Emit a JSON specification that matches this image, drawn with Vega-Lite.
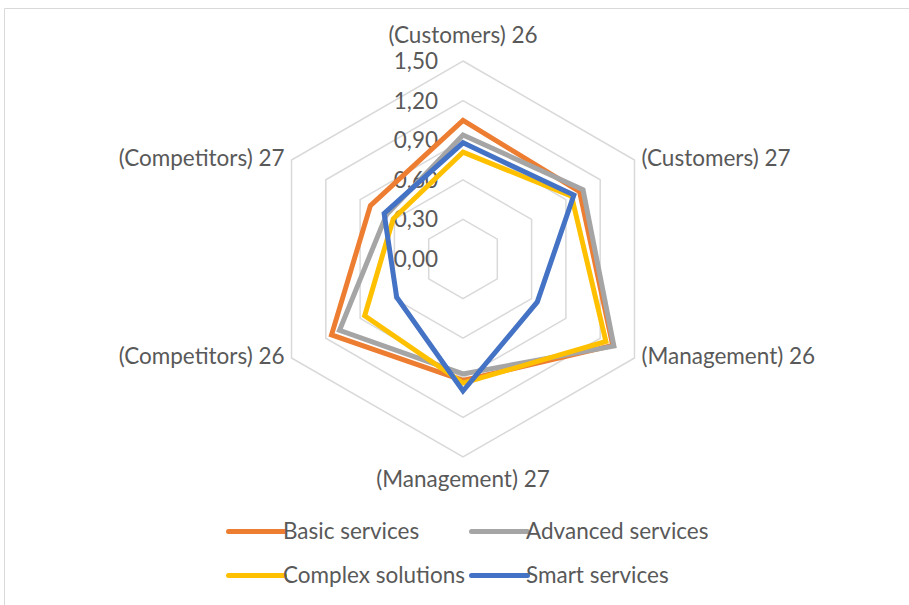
{
  "$schema": "https://vega.github.io/schema/vega-lite/v6.json",
  "width": 909,
  "height": 605,
  "autosize": {"type": "fit", "contains": "padding"},
  "padding": {"left": 4, "top": 8, "right": 0, "bottom": 0},
  "background": "white",
  "config": {
    "view": {"stroke": "#D9D9D9", "strokeWidth": 1},
    "font": "Lato",
    "text": {"font": "Lato", "fontSize": 22.5, "fill": "#595959"}
  },
  "datasets": {
    "vals": [
      {"series": "Basic services", "axis": "(Customers) 26", "value": 1.05},
      {"series": "Basic services", "axis": "(Customers) 27", "value": 1.02},
      {"series": "Basic services", "axis": "(Management) 26", "value": 1.31},
      {"series": "Basic services", "axis": "(Management) 27", "value": 0.92},
      {"series": "Basic services", "axis": "(Competitors) 26", "value": 1.15},
      {"series": "Basic services", "axis": "(Competitors) 27", "value": 0.81},
      {"series": "Advanced services", "axis": "(Customers) 26", "value": 0.94},
      {"series": "Advanced services", "axis": "(Customers) 27", "value": 1.05},
      {"series": "Advanced services", "axis": "(Management) 26", "value": 1.32},
      {"series": "Advanced services", "axis": "(Management) 27", "value": 0.87},
      {"series": "Advanced services", "axis": "(Competitors) 26", "value": 1.08},
      {"series": "Advanced services", "axis": "(Competitors) 27", "value": 0.67},
      {"series": "Complex solutions", "axis": "(Customers) 26", "value": 0.81},
      {"series": "Complex solutions", "axis": "(Customers) 27", "value": 0.95},
      {"series": "Complex solutions", "axis": "(Management) 26", "value": 1.25},
      {"series": "Complex solutions", "axis": "(Management) 27", "value": 0.94},
      {"series": "Complex solutions", "axis": "(Competitors) 26", "value": 0.86},
      {"series": "Complex solutions", "axis": "(Competitors) 27", "value": 0.61},
      {"series": "Smart services", "axis": "(Customers) 26", "value": 0.88},
      {"series": "Smart services", "axis": "(Customers) 27", "value": 0.97},
      {"series": "Smart services", "axis": "(Management) 26", "value": 0.65},
      {"series": "Smart services", "axis": "(Management) 27", "value": 1.0},
      {"series": "Smart services", "axis": "(Competitors) 26", "value": 0.58},
      {"series": "Smart services", "axis": "(Competitors) 27", "value": 0.69}
    ],
    "axes": [
      {"axis": "(Customers) 26", "i": 0},
      {"axis": "(Customers) 27", "i": 1},
      {"axis": "(Management) 26", "i": 2},
      {"axis": "(Management) 27", "i": 3},
      {"axis": "(Competitors) 26", "i": 4},
      {"axis": "(Competitors) 27", "i": 5}
    ],
    "rings": [
      {"level": 0.3, "i": [0, 1, 2, 3, 4, 5]},
      {"level": 0.6, "i": [0, 1, 2, 3, 4, 5]},
      {"level": 0.9, "i": [0, 1, 2, 3, 4, 5]},
      {"level": 1.2, "i": [0, 1, 2, 3, 4, 5]},
      {"level": 1.5, "i": [0, 1, 2, 3, 4, 5]}
    ],
    "ticks": [
      {"level": 0, "label": "0,00"},
      {"level": 0.3, "label": "0,30"},
      {"level": 0.6, "label": "0,60"},
      {"level": 0.9, "label": "0,90"},
      {"level": 1.2, "label": "1,20"},
      {"level": 1.5, "label": "1,50"}
    ]
  },
  "data": {"name": "vals"},
  "transform": [
    {"lookup": "axis", "from": {"data": {"name": "axes"}, "key": "axis", "fields": ["i"]}},
    {"calculate": "datum.value * sin(datum.i * PI / 3)", "as": "px"},
    {"calculate": "datum.value * cos(datum.i * PI / 3)", "as": "py"}
  ],
  "layer": [
    {
      "data": {"name": "rings"},
      "transform": [
        {"flatten": ["i"]},
        {"calculate": "datum.level * sin(datum.i * PI / 3)", "as": "px"},
        {"calculate": "datum.level * cos(datum.i * PI / 3)", "as": "py"}
      ],
      "mark": {"type": "line", "interpolate": "linear-closed", "stroke": "#D9D9D9", "strokeWidth": 1.5},
      "encoding": {
        "x": {"field": "px", "type": "quantitative", "scale": {"domain": [-3.4773, 3.3788], "nice": false, "zero": false}, "axis": null},
        "y": {"field": "py", "type": "quantitative", "scale": {"domain": [-2.6212, 1.9015], "nice": false, "zero": false}, "axis": null},
        "detail": {"field": "level", "type": "nominal"},
        "order": {"field": "i", "type": "quantitative"}
      }
    },
    {
      "data": {"name": "ticks"},
      "mark": {"type": "text", "align": "right", "baseline": "middle", "dx": -25, "dy": 1},
      "encoding": {
        "x": {"datum": 0, "type": "quantitative"},
        "y": {"field": "level", "type": "quantitative"},
        "text": {"field": "label", "type": "nominal"}
      }
    },
    {
      "data": {"name": "axes"},
      "transform": [
        {"calculate": "1.5 * sin(datum.i * PI / 3)", "as": "px"},
        {"calculate": "1.5 * cos(datum.i * PI / 3)", "as": "py"},
        {"filter": "datum.i == 0"}
      ],
      "mark": {"type": "text", "align": "center", "baseline": "middle", "dy": -25},
      "encoding": {
        "x": {"field": "px", "type": "quantitative"},
        "y": {"field": "py", "type": "quantitative"},
        "text": {"field": "axis", "type": "nominal"}
      }
    },
    {
      "data": {"name": "axes"},
      "transform": [
        {"calculate": "1.5 * sin(datum.i * PI / 3)", "as": "px"},
        {"calculate": "1.5 * cos(datum.i * PI / 3)", "as": "py"},
        {"filter": "datum.i == 3"}
      ],
      "mark": {"type": "text", "align": "center", "baseline": "middle", "dy": 23},
      "encoding": {
        "x": {"field": "px", "type": "quantitative"},
        "y": {"field": "py", "type": "quantitative"},
        "text": {"field": "axis", "type": "nominal"}
      }
    },
    {
      "data": {"name": "axes"},
      "transform": [
        {"calculate": "1.5 * sin(datum.i * PI / 3)", "as": "px"},
        {"calculate": "1.5 * cos(datum.i * PI / 3)", "as": "py"},
        {"filter": "datum.i == 1 || datum.i == 2"}
      ],
      "mark": {"type": "text", "align": "left", "baseline": "middle", "dx": 7, "dy": -1},
      "encoding": {
        "x": {"field": "px", "type": "quantitative"},
        "y": {"field": "py", "type": "quantitative"},
        "text": {"field": "axis", "type": "nominal"}
      }
    },
    {
      "data": {"name": "axes"},
      "transform": [
        {"calculate": "1.5 * sin(datum.i * PI / 3)", "as": "px"},
        {"calculate": "1.5 * cos(datum.i * PI / 3)", "as": "py"},
        {"filter": "datum.i == 4 || datum.i == 5"}
      ],
      "mark": {"type": "text", "align": "right", "baseline": "middle", "dx": -7, "dy": -1},
      "encoding": {
        "x": {"field": "px", "type": "quantitative"},
        "y": {"field": "py", "type": "quantitative"},
        "text": {"field": "axis", "type": "nominal"}
      }
    },
    {
      "transform": [{"filter": "datum.series == 'Basic services'"}],
      "mark": {"type": "line", "interpolate": "linear-closed", "strokeWidth": 5, "strokeJoin": "miter"},
      "encoding": {
        "x": {"field": "px", "type": "quantitative"},
        "y": {"field": "py", "type": "quantitative"},
        "order": {"field": "i", "type": "quantitative"},
        "color": {"field": "series", "type": "nominal", "scale": {"domain": ["Basic services", "Advanced services", "Complex solutions", "Smart services"], "range": ["#ED7D31", "#A5A5A5", "#FFC000", "#4472C4"]}, "legend": {"orient": "none", "legendX": 236, "legendY": 507, "direction": "horizontal", "columns": 2, "title": null, "symbolType": "M-2,0H2", "symbolSize": 784, "symbolStrokeWidth": 5, "labelFont": "Lato", "labelFontSize": 22.5, "labelColor": "#595959", "labelOffset": 10, "rowPadding": 16, "columnPadding": -4, "labelLimit": 400, "encode": {"symbols": {"update": {"strokeCap": {"value": "round"}}}}}}
      }
    },
    {
      "transform": [{"filter": "datum.series == 'Advanced services'"}],
      "mark": {"type": "line", "interpolate": "linear-closed", "strokeWidth": 5, "strokeJoin": "miter"},
      "encoding": {
        "x": {"field": "px", "type": "quantitative"},
        "y": {"field": "py", "type": "quantitative"},
        "order": {"field": "i", "type": "quantitative"},
        "color": {"field": "series", "type": "nominal"}
      }
    },
    {
      "transform": [{"filter": "datum.series == 'Complex solutions'"}],
      "mark": {"type": "line", "interpolate": "linear-closed", "strokeWidth": 5, "strokeJoin": "miter"},
      "encoding": {
        "x": {"field": "px", "type": "quantitative"},
        "y": {"field": "py", "type": "quantitative"},
        "order": {"field": "i", "type": "quantitative"},
        "color": {"field": "series", "type": "nominal"}
      }
    },
    {
      "transform": [{"filter": "datum.series == 'Smart services'"}],
      "mark": {"type": "line", "interpolate": "linear-closed", "strokeWidth": 5, "strokeJoin": "miter"},
      "encoding": {
        "x": {"field": "px", "type": "quantitative"},
        "y": {"field": "py", "type": "quantitative"},
        "order": {"field": "i", "type": "quantitative"},
        "color": {"field": "series", "type": "nominal"}
      }
    }
  ]
}
